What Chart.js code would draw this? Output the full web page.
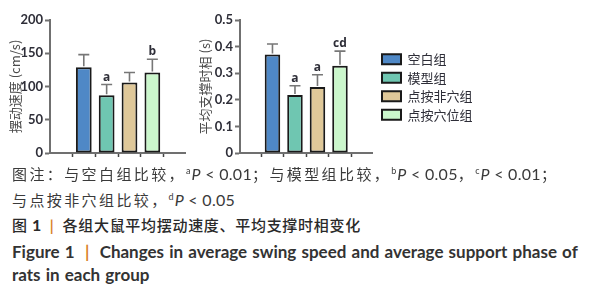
<!DOCTYPE html>
<html>
<head>
<meta charset="utf-8">
<script src="https://cdn.jsdelivr.net/npm/chart.js@4.4.1/dist/chart.umd.min.js"></script>
<style>
  body { margin:0; width:591px; height:300px; overflow:hidden; position:relative; background:#fff;
         font-family:"Noto Sans CJK SC", sans-serif; color:#3a3a3a; }
  #c1 { position:absolute; left:0; top:0; }
  #c2 { position:absolute; left:190px; top:0; }
  .cap { position:absolute; left:12px; white-space:nowrap; font-size:15px; line-height:20px; letter-spacing:2.4px; }
  .lat { font-family:Lato, sans-serif; font-size:16px; letter-spacing:0.3px; }
  .lat i { font-style:italic; }
  sup { font-family:Lato, sans-serif; font-size:9px; letter-spacing:0; vertical-align:6px; line-height:0; margin-right:1px; }
  .bar { color:#d9822b; font-family:Lato, sans-serif; font-weight:700; }
  .en { font-family:Lato, sans-serif; font-weight:700; font-size:17px; letter-spacing:0; word-spacing:1px; color:#333; }
</style>
</head>
<body>
<canvas id="c1" width="190" height="165"></canvas>
<canvas id="c2" width="288" height="165"></canvas>

<div class="cap" style="top:164px">图注：与空白组比较，<sup>a</sup><span class="lat"><i>P</i> &lt; 0.01</span>；与模型组比较，<sup>b</sup><span class="lat"><i>P</i> &lt; 0.05</span>，<sup>c</sup><span class="lat"><i>P</i> &lt; 0.01</span>；</div>
<div class="cap" style="top:190px">与点按非穴组比较，<sup>d</sup><span class="lat"><i>P</i> &lt; 0.05</span></div>
<div class="cap" style="top:215px; color:#2a2a2a; font-weight:500; letter-spacing:0.7px">图<span class="lat" style="font-weight:700"> 1 </span>&nbsp;<span class="bar">|</span>&nbsp; 各组大鼠平均摆动速度、平均支撑时相变化</div>
<div class="cap en" style="top:242px">Figure 1 <span class="bar">&nbsp;|&nbsp;</span> Changes in average swing speed and average support phase of</div>
<div class="cap en" style="top:265px">rats in each group</div>

<script>
// groups and colours
const groups = ['空白组', '模型组', '点按非穴组', '点按穴位组'];
const colors = ['#4f88c6', '#6fc6b1', '#dfc899', '#cbf7cc'];

// left panel: swing speed (cm/s)
const speed    = [129, 87, 106, 121];
const speedSd  = [19, 16, 15, 20];
const speedSig = ['', 'a', '', 'b'];
const speedTicks = [0, 50, 100, 150, 200];

// right panel: support phase (s)
const support    = [0.37, 0.218, 0.248, 0.328];
const supportSd  = [0.04, 0.035, 0.046, 0.055];
const supportSig = ['', 'a', 'a', 'cd'];
const supportTicks = [0, 0.1, 0.2, 0.3, 0.4, 0.5];

const AXIS = '#707070';
const TXT = '#2e2e38';

// error bars + significance letters
const errPlugin = {
  id: 'errbars',
  afterDatasetsDraw(chart, args, opts) {
    const { ctx, scales: { y } } = chart;
    const meta = chart.getDatasetMeta(0);
    ctx.save();
    opts.values.forEach((v, i) => {
      const bar = meta.data[i];
      const top = y.getPixelForValue(v + opts.sd[i]);
      ctx.strokeStyle = '#777';
      ctx.lineWidth = 1.6;
      ctx.beginPath();
      ctx.moveTo(bar.x, bar.y - 1);
      ctx.lineTo(bar.x, top);
      ctx.moveTo(bar.x - 5.5, top);
      ctx.lineTo(bar.x + 5.5, top);
      ctx.stroke();
      if (opts.sig[i]) {
        ctx.fillStyle = TXT;
        ctx.font = 'bold 12px "Open Sans", sans-serif';
        ctx.textAlign = 'center';
        ctx.textBaseline = 'alphabetic';
        ctx.fillText(opts.sig[i], bar.x, top - 4);
      }
    });
    ctx.restore();
  }
};

// nudge the legend box a little away from the axis end
const legendShift = {
  id: 'legendShift',
  afterLayout(chart, args, opts) {
    const lg = chart.legend;
    if (!lg || !chart.options.plugins.legend.display) return;
    lg.left += opts.dx; lg.right += opts.dx;
    lg.top += opts.dy; lg.bottom += opts.dy;
  }
};

function makeChart(id, values, sd, sig, ticks, title, xMin, xMax, legend) {
  return new Chart(document.getElementById(id), {
    type: 'bar',
    data: {
      datasets: [{
        data: values.map((v, i) => ({ x: i, y: v })),
        backgroundColor: colors,
        borderColor: '#1a1a1a',
        borderWidth: 2,
        borderSkipped: false,
        barPercentage: 0.69,
        categoryPercentage: 1
      }]
    },
    options: {
      responsive: false,
      animation: false,
      layout: { padding: { left: 7, top: 20, right: legend ? 6 : 5, bottom: 0 } },
      plugins: {
        tooltip: { enabled: false },
        errbars: { values, sd, sig },
        legendShift: { dx: 4.5, dy: -5.5 },
        legend: legend ? {
          display: true,
          position: 'right',
          maxWidth: 100,
          onClick: null,
          labels: {
            boxWidth: 19, boxHeight: 10, padding: 5.5,
            color: TXT,
            font: { family: '"Noto Sans CJK SC"', size: 13 },
            generateLabels: () => groups.map((g, i) => ({
              text: g, fillStyle: colors[i], strokeStyle: '#1a1a1a', lineWidth: 2,
              hidden: false, index: i, datasetIndex: 0, fontColor: TXT
            }))
          }
        } : { display: false }
      },
      scales: {
        x: {
          type: 'linear',
          min: xMin, max: xMax,
          afterBuildTicks: s => { s.ticks = groups.map((g, i) => ({ value: i })); },
          afterFit: s => { s.height = 12; },
          ticks: { display: false },
          grid: { drawOnChartArea: false, drawTicks: true, tickLength: 4, tickColor: '#444', tickWidth: 1.5 },
          border: { color: AXIS, width: 2 }
        },
        y: {
          min: ticks[0], max: ticks[ticks.length - 1],
          afterBuildTicks: s => { s.ticks = ticks.map(v => ({ value: v })); },
          afterFit: s => { s.width = 43; },
          ticks: { color: TXT, padding: 2, font: { family: 'Lato', size: 13, weight: 'bold' },
                   callback: v => String(v) },
          grid: { drawOnChartArea: false, drawTicks: true, tickLength: 5, tickColor: AXIS, tickWidth: 2 },
          border: { color: AXIS, width: 2 },
          title: { display: true, text: title, color: '#4a4a4a',
                   font: { family: '"Noto Sans CJK SC"', size: 13 }, padding: { top: 0, bottom: 0 } }
        }
      }
    },
    plugins: [errPlugin, legendShift]
  });
}

makeChart('c1', speed, speedSd, speedSig, speedTicks, '摆动速度 (cm/s)', -0.74, 3.69, false);
makeChart('c2', support, supportSd, supportSig, supportTicks, '平均支撑时相 (s)', -0.71, 3.69, true);
</script>
</body>
</html>
